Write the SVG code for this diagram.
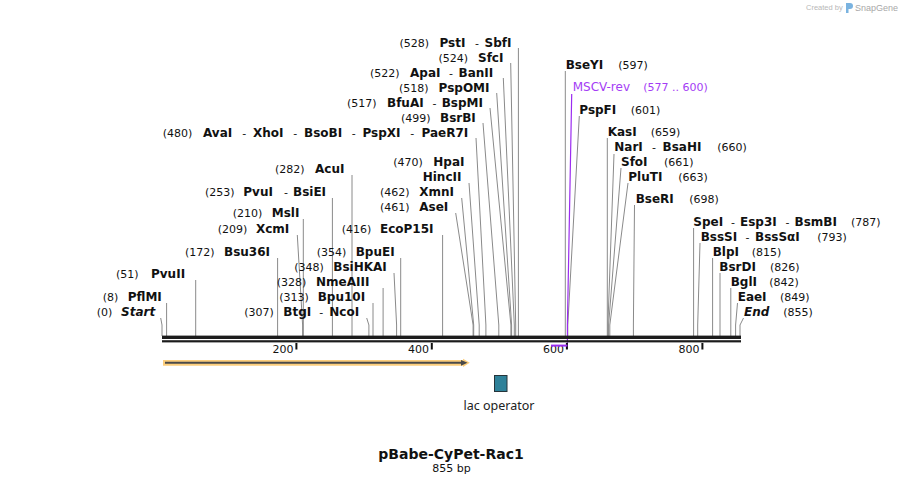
<svg xmlns="http://www.w3.org/2000/svg" width="903" height="486" viewBox="0 0 903 486">
<style>
.t{font-family:"DejaVu Sans",Verdana,sans-serif;font-size:11px;fill:#111}
.b{font-weight:bold;font-size:12px}
.i{font-style:italic}
.ln{stroke:#8a8a8a;stroke-width:1;fill:none}
.pr{stroke:#9b2cf0;fill:none}
.pt{fill:#a43cf5}
</style>
<rect width="903" height="486" fill="#fff"/>
<g id="watermark">
<text x="806" y="10" style="font-family:'Liberation Sans',Arial,sans-serif;font-size:7.5px;fill:#b8b8b8">Created by</text>
<path d="M846,3 h4 a3,3 0 0 1 0,6 h-1.5 v4 h-2.5 z" fill="#7ab3e0"/>
<text x="855" y="11" style="font-family:'Liberation Sans',Arial,sans-serif;font-size:9px;fill:#a8a8a8">SnapGene</text>
</g>
<g id="connectors">
<path class="ln" d="M518.4,48V336M510.7,63L515.7,325V336M503.3,78L514.3,325V336M496.7,93L511.6,325V336M490,108L510.9,325V336M483,123L498.8,325V336M476,138L485.9,325V336M469,183L479.2,325V336M461.7,198L473.7,325V336M455.7,213L473.1,325V336M442.6,235V336M352,175V336M332.4,198V336M303.3,219V336M297.3,235L302.6,325V336M277.6,258V336M400.7,258V336M394,273L396.6,325V336M383.1,288V336M373,303V336M366.7,318L368.9,325V336M195.7,280V336M166.6,303V336M160.7,318L162,325V336"/>
<path class="ln" d="M565.3,71V336M579.3,116L567.8,325V336M607.3,138V336M614,154L607.9,325V336M621,168L608.6,325V336M628,183L609.8,325V336M634.5,205L633.4,325V336M693.6,228V336M700,243L697.7,325V336M712.6,258V336M720,273V336M730.8,288V336M737.5,303L735.6,325V336M743.5,318L740,325V336"/>
<path class="pr" stroke-width="1.2" d="M571.7,94L567.4,325V349"/>
</g>
<g id="axis">
<rect x="162" y="335.6" width="579" height="3.4" fill="#1c1c1c"/>
<rect x="162" y="340.2" width="579" height="2.2" fill="#1c1c1c"/>
<rect x="295.4" y="343" width="2" height="6.5" fill="#111"/>
<rect x="430.8" y="343" width="2" height="6.5" fill="#111"/>
<rect x="565.9" y="343" width="2" height="6.5" fill="#111"/>
<rect x="701.4" y="343" width="2" height="6.5" fill="#111"/>
<text class="t" x="293.5" y="353" text-anchor="end">200</text>
<text class="t" x="429" y="353" text-anchor="end">400</text>
<text class="t" x="564" y="353" text-anchor="end">600</text>
<text class="t" x="699.5" y="353" text-anchor="end">800</text>
<path class="pr" stroke-width="2" d="M551,345.6H567.4"/>
</g>
<g id="feature-arrow">
<path d="M163,360H463V358.8L469.8,362.85L463,366.9V365.7H163Z" fill="#fcc96e" opacity="0.9"/>
<path d="M165,362.85H463" stroke="#4a4a4a" stroke-width="2"/>
<path d="M461,359.9L467.5,362.85L461,365.8Z" fill="#4a4a4a"/>
</g>
<g id="lac-operator">
<rect x="494.5" y="375.5" width="12.5" height="16" fill="#2e8199" stroke="#26343a" stroke-width="1"/>
<text x="499" y="409.5" text-anchor="middle" style="font-family:'Noto Sans','Open Sans',sans-serif;font-size:12.5px;fill:#222">lac operator</text>
</g>
<g id="title">
<text class="t" x="451" y="459" text-anchor="middle" style="font-size:14px;font-weight:bold">pBabe-CyPet-Rac1</text>
<text class="t" x="451.5" y="472" text-anchor="middle">855 bp</text>
</g>
<g id="site-PstI"><text class="t" y="46.5"><tspan x="399.5">(528)</tspan><tspan class="b" x="439.5">PstI</tspan><tspan x="475">-</tspan><tspan class="b" x="484.5">SbfI</tspan></text></g>
<g id="site-SfcI"><text class="t" y="61.5"><tspan x="438.5">(524)</tspan><tspan class="b" x="478">SfcI</tspan></text></g>
<g id="site-ApaI"><text class="t" y="76.5"><tspan x="370">(522)</tspan><tspan class="b" x="410">ApaI</tspan><tspan x="449">-</tspan><tspan class="b" x="458.5">BanII</tspan></text></g>
<g id="site-PspOMI"><text class="t" y="91.5"><tspan x="399">(518)</tspan><tspan class="b" x="438.6">PspOMI</tspan></text></g>
<g id="site-BfuAI"><text class="t" y="106.5"><tspan x="347">(517)</tspan><tspan class="b" x="387">BfuAI</tspan><tspan x="432.5">-</tspan><tspan class="b" x="441.7">BspMI</tspan></text></g>
<g id="site-BsrBI"><text class="t" y="121.5"><tspan x="401">(499)</tspan><tspan class="b" x="440">BsrBI</tspan></text></g>
<g id="site-AvaI"><text class="t" y="136.5"><tspan x="162.7">(480)</tspan><tspan class="b" x="203">AvaI</tspan><tspan x="242.3">-</tspan><tspan class="b" x="253">XhoI</tspan><tspan x="293.3">-</tspan><tspan class="b" x="304">BsoBI</tspan><tspan x="351.8">-</tspan><tspan class="b" x="362.5">PspXI</tspan><tspan x="410.3">-</tspan><tspan class="b" x="421.5">PaeR7I</tspan></text></g>
<g id="site-HpaI"><text class="t" y="166"><tspan x="393.3">(470)</tspan><tspan class="b" x="433.3">HpaI</tspan></text><text class="t b" x="422.7" y="181">HincII</text></g>
<g id="site-XmnI"><text class="t" y="196"><tspan x="380">(462)</tspan><tspan class="b" x="419.3">XmnI</tspan></text></g>
<g id="site-AseI"><text class="t" y="211"><tspan x="380">(461)</tspan><tspan class="b" x="419.3">AseI</tspan></text></g>
<g id="site-EcoP15I"><text class="t" y="233"><tspan x="341.7">(416)</tspan><tspan class="b" x="380">EcoP15I</tspan></text></g>
<g id="site-AcuI"><text class="t" y="173"><tspan x="275">(282)</tspan><tspan class="b" x="315">AcuI</tspan></text></g>
<g id="site-PvuI"><text class="t" y="196"><tspan x="205">(253)</tspan><tspan class="b" x="243.3">PvuI</tspan><tspan x="284">-</tspan><tspan class="b" x="293">BsiEI</tspan></text></g>
<g id="site-MslI"><text class="t" y="217"><tspan x="232.7">(210)</tspan><tspan class="b" x="271.7">MslI</tspan></text></g>
<g id="site-XcmI"><text class="t" y="233"><tspan x="217.7">(209)</tspan><tspan class="b" x="256">XcmI</tspan></text></g>
<g id="site-Bsu36I"><text class="t" y="256"><tspan x="185">(172)</tspan><tspan class="b" x="224">Bsu36I</tspan></text></g>
<g id="site-BpuEI"><text class="t" y="256"><tspan x="316.7">(354)</tspan><tspan class="b" x="355.7">BpuEI</tspan></text></g>
<g id="site-BsiHKAI"><text class="t" y="271"><tspan x="294.3">(348)</tspan><tspan class="b" x="333.3">BsiHKAI</tspan></text></g>
<g id="site-NmeAIII"><text class="t" y="286"><tspan x="276.7">(328)</tspan><tspan class="b" x="316">NmeAIII</tspan></text></g>
<g id="site-Bpu10I"><text class="t" y="301"><tspan x="279.3">(313)</tspan><tspan class="b" x="317.7">Bpu10I</tspan></text></g>
<g id="site-BtgI"><text class="t" y="316"><tspan x="244.3">(307)</tspan><tspan class="b" x="283.3">BtgI</tspan><tspan x="319.3">-</tspan><tspan class="b" x="329.3">NcoI</tspan></text></g>
<g id="site-PvuII"><text class="t" y="278"><tspan x="116">(51)</tspan><tspan class="b" x="151">PvuII</tspan></text></g>
<g id="site-PflMI"><text class="t" y="301"><tspan x="102.7">(8)</tspan><tspan class="b" x="127.7">PflMI</tspan></text></g>
<g id="site-Start"><text class="t" y="316"><tspan x="96.7">(0)</tspan><tspan class="b i" x="121">Start</tspan></text></g>
<g id="site-BseYI"><text class="t" y="68.5"><tspan class="b" x="565.7">BseYI</tspan><tspan x="618.3">(597)</tspan></text></g>
<g id="primer-MSCV-rev"><text class="t pt" y="91"><tspan x="572.7" style="font-size:12px">MSCV-rev</tspan><tspan x="643.3">(577 .. 600)</tspan></text></g>
<g id="site-PspFI"><text class="t" y="113.5"><tspan class="b" x="579.3">PspFI</tspan><tspan x="630.7">(601)</tspan></text></g>
<g id="site-KasI"><text class="t" y="136"><tspan class="b" x="607.7">KasI</tspan><tspan x="650.7">(659)</tspan></text></g>
<g id="site-NarI"><text class="t" y="151"><tspan class="b" x="614.3">NarI</tspan><tspan x="652">-</tspan><tspan class="b" x="662.5">BsaHI</tspan><tspan x="717.3">(660)</tspan></text></g>
<g id="site-SfoI"><text class="t" y="166"><tspan class="b" x="621">SfoI</tspan><tspan x="664">(661)</tspan></text></g>
<g id="site-PluTI"><text class="t" y="181"><tspan class="b" x="628.3">PluTI</tspan><tspan x="678.3">(663)</tspan></text></g>
<g id="site-BseRI"><text class="t" y="203"><tspan class="b" x="635.7">BseRI</tspan><tspan x="689.3">(698)</tspan></text></g>
<g id="site-SpeI"><text class="t" y="226"><tspan class="b" x="693.3">SpeI</tspan><tspan x="731">-</tspan><tspan class="b" x="740">Esp3I</tspan><tspan x="785.5">-</tspan><tspan class="b" x="794.5">BsmBI</tspan><tspan x="851">(787)</tspan></text></g>
<g id="site-BssSI"><text class="t" y="241"><tspan class="b" x="700.7">BssSI</tspan><tspan x="745.5">-</tspan><tspan class="b" x="755">BssSαI</tspan><tspan x="817.3">(793)</tspan></text></g>
<g id="site-BlpI"><text class="t" y="256"><tspan class="b" x="712.7">BlpI</tspan><tspan x="751.7">(815)</tspan></text></g>
<g id="site-BsrDI"><text class="t" y="271"><tspan class="b" x="719.3">BsrDI</tspan><tspan x="770">(826)</tspan></text></g>
<g id="site-BglI"><text class="t" y="286"><tspan class="b" x="730.7">BglI</tspan><tspan x="769.3">(842)</tspan></text></g>
<g id="site-EaeI"><text class="t" y="301"><tspan class="b" x="737.7">EaeI</tspan><tspan x="780">(849)</tspan></text></g>
<g id="site-End"><text class="t" y="316"><tspan class="b i" x="744">End</tspan><tspan x="783.3">(855)</tspan></text></g>
</svg>
